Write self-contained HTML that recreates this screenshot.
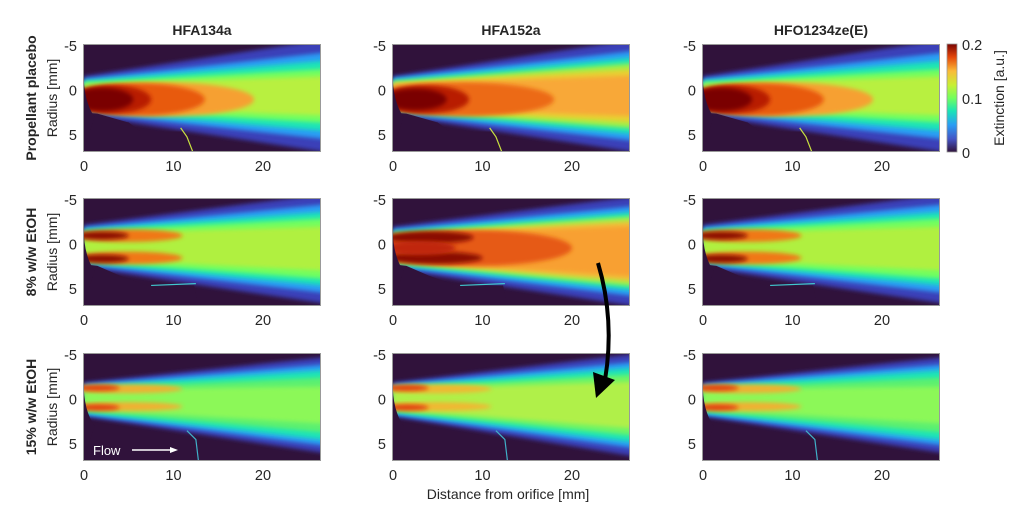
<!DOCTYPE html>
<html><head><meta charset="utf-8"><style>
body{margin:0;background:#fff;width:1023px;height:523px;overflow:hidden}
svg text{font-family:"Liberation Sans",sans-serif;fill:#262626}
</style></head><body>
<svg id="s" width="1023" height="523" xmlns="http://www.w3.org/2000/svg">
<defs>
<filter id="b" x="-20%" y="-50%" width="140%" height="200%"><feGaussianBlur stdDeviation="2.2"/></filter>
<linearGradient id="cb" x1="0" y1="1" x2="0" y2="0">
<stop offset="0" stop-color="#30123b"/><stop offset="0.12" stop-color="#4454c4"/><stop offset="0.25" stop-color="#2a9df4"/><stop offset="0.38" stop-color="#1ae4b6"/><stop offset="0.5" stop-color="#72fe5e"/><stop offset="0.62" stop-color="#c8ef34"/><stop offset="0.75" stop-color="#faba39"/><stop offset="0.88" stop-color="#e4460a"/><stop offset="1" stop-color="#7a0403"/></linearGradient>
</defs>
</svg>
<script>
const s=document.getElementById('s');let h='';
const X=[83,392,702],Y=[44,198,353],W=238,H=108;
const px=(m)=>1+8.95*m, py=(m)=>2+(m+5)*8.9;
function wedge(c0,c1,w0,w1,col){
 return `<polygon points="${px(0)},${py(c0-w0)} ${px(30)},${py(c1-w1)} ${px(30)},${py(c1+w1)} ${px(0)},${py(c0+w0)}" fill="${col}" filter="url(#b)"/>`;}
function ell(cx,cy,rx,ry,col){return `<ellipse cx="${px(cx)}" cy="${py(cy)}" rx="${rx*8.95}" ry="${ry*8.9}" fill="${col}" filter="url(#b)"/>`;}
const P=[
[[0.6,0.6,[[2.2,6.8,'#3b3fb8'],[1.9,5.2,'#2a9df4'],[1.7,4.2,'#1ae4b6'],[1.5,3.2,'#72fe5e'],[1.3,2.3,'#b8f040']],[[9,1,10,1.9,'#f6a030'],[6,1,7.5,1.8,'#e85a10'],[3,1,4.5,1.6,'#b81a05'],[2,1,3.5,1.3,'#7a0403']]],
 [0.6,0.6,[[2.2,6.8,'#3b3fb8'],[2.0,5.4,'#2a9df4'],[1.8,4.6,'#1ae4b6'],[1.6,3.9,'#9ef048'],[1.4,3.2,'#e8d030'],[1.3,2.4,'#f8a838']],[[8,1,10,1.9,'#ec6a18'],[3.5,1,5,1.6,'#b81a05'],[2.5,1,3.5,1.2,'#7a0403']]],
 [0.6,0.6,[[2.2,6.8,'#3b3fb8'],[1.9,5.2,'#2a9df4'],[1.7,4.2,'#1ae4b6'],[1.5,3.2,'#72fe5e'],[1.3,2.3,'#b8f040']],[[9,1,10,1.9,'#f6a030'],[6,1,7.5,1.8,'#e85a10'],[3,1,4.5,1.6,'#b81a05'],[2,1,3.5,1.3,'#7a0403']]]],
[[0.2,0.5,[[2.4,6.6,'#3b3fb8'],[2.1,5.3,'#2a9df4'],[1.9,4.4,'#1ae4b6'],[1.7,3.6,'#72fe5e'],[1.4,2.6,'#b0f040']],[[5,-1,6,0.7,'#f07818'],[5,1.5,6,0.7,'#f07818'],[2,-1,3,0.45,'#8a0a04'],[2,1.6,3,0.45,'#8a0a04']]],
 [0.4,0.8,[[2.4,6.6,'#3b3fb8'],[2.1,5.4,'#2a9df4'],[1.9,4.7,'#1ae4b6'],[1.7,4.2,'#a0f048'],[1.5,3.6,'#f0c038'],[1.4,3.0,'#f8a030']],[[9,0.4,11,2.0,'#e65a12'],[4,-0.8,5,0.7,'#8a0a04'],[4.5,1.5,5.5,0.7,'#8a0a04'],[3,0.4,4,0.8,'#c02808']]],
 [0.2,0.5,[[2.4,6.6,'#3b3fb8'],[2.1,5.3,'#2a9df4'],[1.9,4.4,'#1ae4b6'],[1.7,3.6,'#72fe5e'],[1.4,2.6,'#b0f040']],[[5,-1,6,0.7,'#f07818'],[5,1.5,6,0.7,'#f07818'],[2,-1,3,0.45,'#8a0a04'],[2,1.6,3,0.45,'#8a0a04']]]],
[[0,0.7,[[1.9,5.8,'#3b3fb8'],[1.7,4.9,'#2a9df4'],[1.5,4.2,'#1ae4b6'],[1.3,3.3,'#5cf070'],[1.1,2.2,'#8cf858']],[[5,-1.2,6,0.5,'#f0b030'],[5,0.8,6,0.5,'#f0b030'],[1.5,-1.3,2.5,0.35,'#e04010'],[1.5,0.9,2.5,0.35,'#e04010']]],
 [0,0.7,[[1.9,6.2,'#3b3fb8'],[1.7,5.2,'#2a9df4'],[1.5,4.5,'#1ae4b6'],[1.3,3.7,'#6cf466'],[1.1,2.8,'#b0f048']],[[5,-1.2,6,0.5,'#f0b830'],[5,0.8,6,0.5,'#f0b830'],[1.5,-1.3,2.5,0.35,'#e04010'],[1.5,0.9,2.5,0.35,'#e04010']]],
 [0,0.7,[[1.9,5.8,'#3b3fb8'],[1.7,4.9,'#2a9df4'],[1.5,4.2,'#1ae4b6'],[1.3,3.3,'#5cf070'],[1.1,2.2,'#8cf858']],[[5,-1.2,6,0.5,'#f0b030'],[5,0.8,6,0.5,'#f0b030'],[1.5,-1.3,2.5,0.35,'#e04010'],[1.5,0.9,2.5,0.35,'#e04010']]]]];
const titles=['HFA134a','HFA152a','HFO1234ze(E)'];
const rows=['Propellant placebo','8% w/w EtOH','15% w/w EtOH'];
for(let r=0;r<3;r++)for(let c=0;c<3;c++){
 const [c0,c1,L,E]=P[r][c];const ox=X[c],oy=Y[r];
 h+=`<svg x="${ox}" y="${oy}" width="${W}" height="${H}"><rect width="${W}" height="${H}" fill="#30123b"/>`;
 for(const l of L)h+=wedge(c0,c1,l[0],l[1],l[2]);
 for(const e of E)h+=ell(e[0],e[1],e[2],e[3],e[4]);
 if(r==0)h+=`<polygon points="${px(-1)},${py(2.4)} ${px(1.5)},${py(2.6)} ${px(5)},${py(3.6)} ${px(6.3)},${py(4.6)} ${px(11)},${py(4.6)} ${px(12.3)},${py(8)} ${px(-1)},${py(8)}" fill="#30123b"/><polyline points="${px(10.8)},${py(4.2)} ${px(11.5)},${py(5.2)} ${px(12.2)},${py(7)}" stroke="#c8e040" stroke-width="1.2" fill="none"/>`;
 if(r==1)h+=`<polygon points="${px(-1)},${py(2.1)} ${px(1.5)},${py(2.4)} ${px(4)},${py(3.5)} ${px(7)},${py(4.6)} ${px(12.3)},${py(4.6)} ${px(13)},${py(8)} ${px(-1)},${py(8)}" fill="#30123b"/><polyline points="${px(7.5)},${py(4.6)} ${px(12.5)},${py(4.4)}" stroke="#40c8d0" stroke-width="1.2" fill="none"/>`;
 if(r==2)h+=`<polyline points="${px(11.5)},${py(3.5)} ${px(12.5)},${py(4.5)} ${px(12.8)},${py(7)}" stroke="#40b0c8" stroke-width="1.2" fill="none"/>`;
 h+=`<path d="M0 0 L${px(0.2)} 0 Q${px(-0.6)} ${py(0.5)} ${px(1.2)} ${py(3)} L0 ${H}Z" fill="#30123b"/>`;
 h+=`<rect x="0.5" y="0.5" width="${W-1}" height="${H-1}" fill="none" stroke="#999" stroke-width="1"/></svg>`;
 for(const [t,l] of [[0,'0'],[10,'10'],[20,'20']])h+=`<text x="${ox+px(t)}" y="${oy+H+19}" font-size="14.5" text-anchor="middle">${l}</text>`;
 for(const [t,l] of [[-5,'-5'],[0,'0'],[5,'5']])h+=`<text x="${ox-6}" y="${oy+py(t)+5}" font-size="14.5" text-anchor="end">${l}</text>`;
 if(r==0)h+=`<text x="${ox+W/2}" y="35" font-size="14" font-weight="bold" text-anchor="middle" fill="#000">${titles[c]}</text>`;
 if(c==0){const cy=oy+H/2;h+=`<text transform="translate(36,${cy}) rotate(-90)" font-size="14" font-weight="bold" text-anchor="middle">${rows[r]}</text><text transform="translate(57,${cy}) rotate(-90)" font-size="14" text-anchor="middle">Radius [mm]</text>`;}
}
h+=`<rect x="947" y="44" width="10" height="108" fill="url(#cb)" stroke="#999" stroke-width="0.8"/>`;
for(const [v,y] of [['0.2',50],['0.1',104],['0',158]])h+=`<text x="962" y="${y}" font-size="14.5">${v}</text>`;
h+=`<text transform="translate(1004,98) rotate(-90)" font-size="14" text-anchor="middle">Extinction [a.u.]</text>`;
h+=`<text x="508" y="499" font-size="14" text-anchor="middle">Distance from orifice [mm]</text>`;
h+=`<text x="93" y="455" font-size="13" style="fill:#fff">Flow</text><line x1="132" y1="450" x2="172" y2="450" stroke="#fff" stroke-width="1.5"/><polygon points="178,450 170,447 170,453" fill="#fff"/>`;
h+=`<path d="M598 263 Q615 320 605 380" stroke="#000" stroke-width="4" fill="none"/><polygon points="596,398 593,372 615,380" fill="#000"/>`;
s.insertAdjacentHTML('beforeend',h);
</script>
</body></html>
